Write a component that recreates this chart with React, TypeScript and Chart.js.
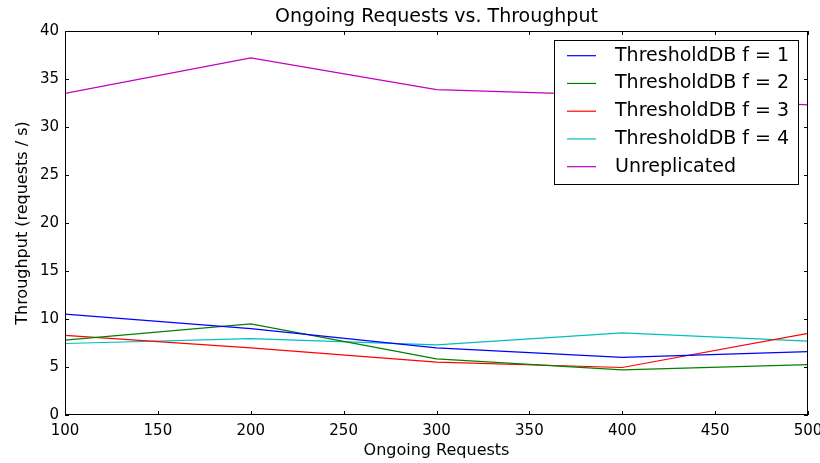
import { useEffect, useRef } from "react";
import { Chart, registerables } from "chart.js";
Chart.register(...registerables);

const requests = [100, 200, 300, 400, 500];
const thresholdF1 = [10.5, 9.0, 7.0, 6.0, 6.6];
const thresholdF2 = [7.8, 9.5, 5.85, 4.7, 5.25];
const thresholdF3 = [8.3, 7.0, 5.5, 4.95, 8.5];
const thresholdF4 = [7.45, 7.95, 7.3, 8.55, 7.7];
const unreplicated = [33.5, 37.2, 33.9, 33.3, 32.3];

const seriesNames = ["ThresholdDB f = 1", "ThresholdDB f = 2", "ThresholdDB f = 3", "ThresholdDB f = 4", "Unreplicated"];
const seriesColors = ["#0000ff", "#008000", "#ff0000", "#00bfbf", "#bf00bf"];
const seriesValues = [thresholdF1, thresholdF2, thresholdF3, thresholdF4, unreplicated];

const titleText = "Ongoing Requests vs. Throughput";
const xTitle = "Ongoing Requests";
const yTitle = "Throughput (requests / s)";
const FONT = "'DejaVu Sans', sans-serif";

const framePlugin = {
  id: "frame",
  afterDraw(chart: any) {
    const { ctx, chartArea: a, scales } = chart;
    ctx.save();
    ctx.strokeStyle = "#000";
    ctx.lineWidth = 1;
    ctx.strokeRect(Math.round(a.left) + 0.5, Math.round(a.top) + 0.5, Math.round(a.right - a.left) - 1, Math.round(a.bottom - a.top) - 1);
    const tl = 4;
    ctx.beginPath();
    for (const t of scales.x.ticks) {
      const x = Math.round(scales.x.getPixelForValue(t.value)) + 0.5;
      ctx.moveTo(x, a.bottom); ctx.lineTo(x, a.bottom - tl);
      ctx.moveTo(x, a.top); ctx.lineTo(x, a.top + tl);
    }
    for (const t of scales.y.ticks) {
      const y = Math.round(scales.y.getPixelForValue(t.value)) + 0.5;
      ctx.moveTo(a.left, y); ctx.lineTo(a.left + tl, y);
      ctx.moveTo(a.right, y); ctx.lineTo(a.right - tl, y);
    }
    ctx.stroke();

    // titles
    ctx.fillStyle = "#000";
    ctx.textAlign = "center";
    ctx.textBaseline = "middle";
    ctx.font = `19px ${FONT}`;
    ctx.fillText(titleText, (a.left + a.right) / 2, 17);
    ctx.font = `16px ${FONT}`;
    ctx.fillText(xTitle, (a.left + a.right) / 2, 451);
    ctx.translate(23, (a.top + a.bottom) / 2);
    ctx.rotate(-Math.PI / 2);
    ctx.fillText(yTitle, 0, 0);
    ctx.restore();

    // legend
    ctx.save();
    const lx = 554.5, ly = 40.5, lw = 244, lh = 144;
    ctx.fillStyle = "#fff";
    ctx.fillRect(lx, ly, lw, lh);
    ctx.strokeStyle = "#000";
    ctx.lineWidth = 1;
    ctx.strokeRect(lx, ly, lw, lh);
    ctx.font = `19px ${FONT}`;
    ctx.textAlign = "left";
    ctx.textBaseline = "middle";
    seriesNames.forEach((n, i) => {
      const y = 55.7 + i * 27.75;
      ctx.strokeStyle = seriesColors[i];
      ctx.lineWidth = 1.2;
      ctx.beginPath();
      ctx.moveTo(567, y); ctx.lineTo(596, y);
      ctx.stroke();
      ctx.fillStyle = "#000";
      ctx.fillText(n, 615, y);
    });
    ctx.restore();
  },
};

export default function App() {
  const ref = useRef<HTMLCanvasElement>(null);
  useEffect(() => {
    if (!ref.current) return;
    const chart = new Chart(ref.current, {
      type: "line",
      data: {
        labels: requests,
        datasets: seriesNames.map((n, i) => ({
          label: n,
          data: requests.map((r, j) => ({ x: r, y: seriesValues[i][j] })),
          borderColor: seriesColors[i],
          backgroundColor: seriesColors[i],
          borderWidth: 1.2,
          pointRadius: 0,
          tension: 0,
          fill: false,
        })),
      },
      options: {
        responsive: false,
        animation: false,
        layout: { padding: { left: 0, top: 31, right: 12, bottom: 0 } },
        plugins: { legend: { display: false }, title: { display: false }, tooltip: { enabled: false } },
        scales: {
          x: {
            type: "linear",
            min: 100,
            max: 500,
            grid: { display: false, drawTicks: false },
            border: { display: false },
            ticks: { stepSize: 50, color: "#000", padding: 7, font: { family: FONT, size: 15 }, maxRotation: 0 },
            afterFit: (s: any) => { s.height = 48; s.paddingLeft = 0; s.paddingRight = 0; },
          },
          y: {
            min: 0,
            max: 40,
            grid: { display: false, drawTicks: false },
            border: { display: false },
            ticks: { stepSize: 5, color: "#000", padding: 6, font: { family: FONT, size: 15 } },
            afterFit: (s: any) => { s.width = 65; s.paddingTop = 0; s.paddingBottom = 0; },
          },
        },
      },
      plugins: [framePlugin],
    });
    return () => chart.destroy();
  }, []);
  return (
    <canvas ref={ref} width={820} height={463} style={{ position: "absolute", left: 0, top: 0, display: "block" }} />
  );
}
